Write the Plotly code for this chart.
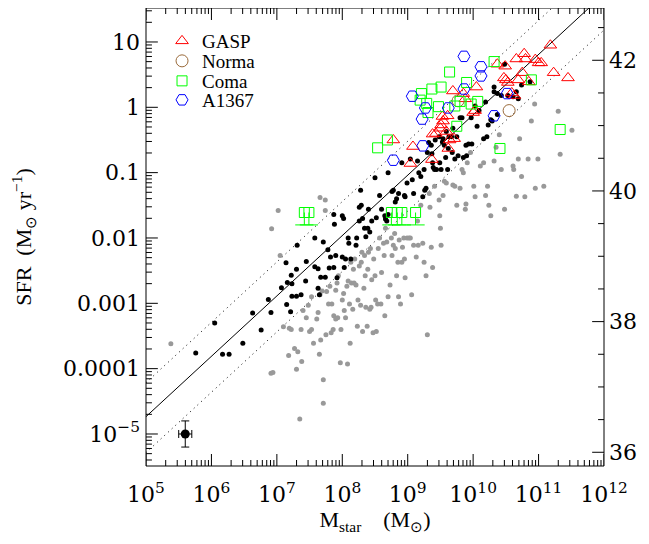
import numpy as np
import plotly.graph_objects as go

# log10 stellar mass / log10 SFR
black_logm = [5.76, 6.05, 6.17, 6.27, 6.48, 6.63, 6.76, 6.87, 6.91, 7.07, 7.14, 7.16, 7.22, 7.23,
              7.15, 7.21, 7.23, 7.30, 7.30, 7.37, 7.31, 7.45, 7.44, 7.58, 7.58, 7.63, 7.63, 7.67,
              7.65, 7.71, 7.74, 7.78, 7.80, 7.82, 7.87, 7.88, 7.87, 7.90, 7.92, 8.00, 8.02, 8.00,
              8.03, 8.05, 8.09, 8.10, 8.13, 8.21, 8.22, 8.26, 8.26, 8.28, 8.29, 8.31, 8.34, 8.36,
              8.39, 8.40, 8.42, 8.45, 8.50, 8.52, 8.57, 8.60, 8.65, 8.66, 8.68, 8.70, 8.70, 8.76,
              8.78, 8.81, 8.83, 8.86, 8.91, 8.95, 8.96, 8.99, 9.04, 9.07, 9.09, 9.15, 9.17, 9.20,
              9.23, 9.25, 9.26, 9.28, 9.30, 9.32, 9.36, 9.37, 9.38, 9.39, 9.41, 9.42, 9.44, 9.48,
              9.49, 9.51, 9.53, 9.54, 9.56, 9.58, 9.59, 9.61, 9.62, 9.63, 9.67, 9.68, 9.69, 9.72,
              9.75, 9.77, 9.80, 9.83, 9.85, 9.89, 9.90, 9.93, 9.98, 9.97, 10.03, 10.06, 10.09,
              10.16, 10.19, 10.21, 10.23, 10.27, 10.29, 10.32, 10.32, 10.37, 10.43, 10.48, 10.53,
              10.61, 10.74, 10.87, 10.66, 10.69, 10.37]
black_logsfr = [-3.76, -3.30, -3.78, -3.78, -3.61, -3.15, -3.41, -2.94, -3.14, -2.76, -2.38, -2.68,
                -2.57, -2.70, -3.02, -3.13, -2.89, -2.48, -2.89, -2.87, -2.11, -2.36, -2.66, -2.00,
                -2.44, -2.47, -2.77, -2.60, -2.87, -2.06, -2.60, -2.18, -2.46, -2.29, -1.64, -1.79,
                -2.45, -2.27, -2.61, -1.66, -1.70, -2.29, -2.45, -2.32, -2.00, -2.08, -2.32, -2.11,
                -2.00, -1.53, -1.74, -1.27, -1.50, -1.70, -1.85, -1.98, -1.85, -1.56, -1.91, -1.74,
                -1.08, -1.69, -1.35, -1.56, -1.66, -1.71, -1.74, -1.00, -1.64, -1.29, -1.27, -1.45,
                -1.40, -1.32, -0.85, -1.35, -1.37, -1.16, -0.79, -1.11, -1.32, -0.82, -1.00, -1.06,
                -1.37, -0.95, -1.27, -1.24, -0.69, -0.54, -0.58, -0.71, -0.85, -0.92, -0.95, -0.50,
                -0.95, -0.45, -0.85, -0.95, -0.53, -0.48, -0.58, -0.77, -0.37, -0.95, -0.63, -0.45,
                -0.45, -0.69, -0.32, -0.79, -0.45, -0.74, -0.16, -0.16, -0.77, -0.58, -0.74, -0.56,
                -0.56, -0.16, 0.02, -0.29, -0.05, -0.48, 0.08, -0.45, -0.27, -0.19, -0.21, 0.31,
                0.24, 0.21, 0.18, 0.66, 0.18, 0.16, 0.34, 0.39, 0.24, 0.13, -0.11]

gray_logm = [5.38, 6.92, 6.91, 6.94, 7.02, 7.05, 7.10, 7.19, 7.22, 7.18, 7.27, 7.32, 7.30, 7.35,
             7.37, 7.38, 7.40, 7.45, 7.48, 7.50, 7.53, 7.53, 7.56, 7.61, 7.63, 7.65, 7.66, 7.66,
             7.67, 7.69, 7.71, 7.71, 7.74, 7.74, 7.75, 7.76, 7.79, 7.81, 7.83, 7.84, 7.86, 7.87,
             7.90, 7.90, 7.92, 7.93, 7.94, 7.97, 7.98, 8.00, 8.02, 8.03, 8.05, 8.07, 8.08, 8.09,
             8.11, 8.12, 8.13, 8.14, 8.16, 8.17, 8.18, 8.19, 8.21, 8.23, 8.24, 8.26, 8.28, 8.29,
             8.30, 8.31, 8.33, 8.34, 8.35, 8.36, 8.38, 8.39, 8.40, 8.42, 8.43, 8.44, 8.45, 8.47,
             8.48, 8.50, 8.51, 8.52, 8.54, 8.55, 8.57, 8.59, 8.60, 8.63, 8.64, 8.65, 8.66, 8.68,
             8.70, 8.73, 8.75, 8.76, 8.78, 8.80, 8.81, 8.83, 8.85, 8.86, 8.87, 8.89, 8.91, 8.92,
             8.94, 8.95, 8.96, 8.99, 9.02, 9.04, 9.06, 9.09, 9.13, 9.15, 9.16, 9.20, 9.23, 9.25,
             9.28, 9.30, 9.33, 9.34, 9.36, 9.38, 9.41, 9.48, 9.49, 9.50, 9.51, 9.54, 9.56, 9.59,
             9.69, 9.72, 9.75, 9.80, 9.83, 9.85, 9.88, 9.89, 9.91, 9.96, 10.01, 10.03, 10.11,
             10.16, 10.19, 10.22, 10.24, 10.27, 10.32, 10.35, 10.40, 10.43, 10.48, 10.61, 10.62,
             10.66, 10.69, 10.71, 10.74, 10.79, 10.84, 10.89, 10.94, 10.95, 10.99, 11.08, 11.30,
             11.33, 11.51]
gray_logsfr = [-3.62, -1.86, -4.07, -4.06, -1.58, -2.27, -3.36, -3.38, -3.40, -3.80, -3.69, -3.74,
               -4.01, -4.77, -3.40, -3.89, -3.11, -3.22, -3.03, -3.43, -3.40, -2.90, -3.61, -3.24,
               -3.14, -3.78, -1.38, -2.87, -3.56, -2.81, -4.17, -4.53, -1.42, -1.58, -3.48, -2.82,
               -3.01, -2.74, -3.45, -3.01, -3.40, -3.19, -3.24, -2.80, -2.69, -3.22, -2.58, -3.91,
               -3.40, -2.95, -2.85, -3.11, -3.22, -2.74, -3.93, -2.66, -3.01, -3.61, -2.37, -2.69,
               -3.09, -2.48, -2.69, -2.32, -2.72, -3.35, -2.95, -2.43, -3.03, -2.37, -2.22, -3.43,
               -2.77, -2.27, -2.58, -3.06, -3.35, -2.48, -2.22, -3.09, -2.16, -3.06, -2.64, -3.45,
               -2.32, -2.58, -2.95, -3.43, -3.01, -2.16, -2.00, -3.01, -2.53, -2.08, -2.27, -3.19,
               -1.85, -2.06, -2.90, -2.72, -2.00, -2.27, -2.11, -1.93, -2.16, -2.58, -2.37, -2.90,
               -2.03, -3.01, -2.37, -2.14, -2.00, -2.32, -2.61, -2.00, -2.00, -2.00, -2.87, -2.11,
               -2.29, -1.74, -2.11, -1.50, -2.08, -2.37, -2.58, -3.48, -1.32, -1.53, -2.14, -2.45,
               -1.21, -1.42, -1.66, -1.85, -2.11, -1.35, -1.13, -1.16, -1.19, -1.21, -1.50, -1.24,
               -0.95, -1.00, -1.56, -1.48, -0.85, -0.69, -1.21, -1.37, -0.90, -0.85, -1.35, -1.21,
               -1.50, -1.66, -0.82, -0.61, -0.42, -0.95, -1.56, -0.90, -0.95, -1.36, -0.79, -0.48,
               -1.06, -1.37, -0.79, -0.21, 0.05, -1.24, -0.79, -1.21, -0.06, -0.72, -0.35]

gasp_logm = [8.78, 9.08, 9.04, 9.37, 9.38, 9.51, 9.50, 9.53, 9.61, 9.59, 9.62, 9.69, 9.71, 9.85,
             9.88, 10.00, 10.03, 10.05, 10.37, 10.49, 10.47, 10.50, 10.53, 10.59, 10.63, 10.66,
             10.69, 10.75, 10.78, 10.80, 10.85, 10.95, 11.00, 11.04, 11.18, 11.23, 11.45, 9.54,
             9.64, 9.43]
gasp_logsfr = [-0.50, -0.60, -0.86, -0.80, -0.41, -0.27, -0.32, -0.14, -0.13, -0.37, -0.63, 0.25,
               -0.48, 0.21, 0.13, -0.08, -0.05, 0.31, 0.66, 0.63, 0.45, 0.42, 0.38, 0.22, 0.18,
               0.74, 0.42, 0.53, 0.82, 0.74, 0.39, 0.73, 0.68, 0.68, 0.95, 0.53, 0.45, -0.21,
               -0.50, -0.40]

norma_logm = [10.55, 9.77]
norma_logsfr = [-0.05, 0.10]

coma_logm = [8.54, 8.69, 9.21, 9.19, 9.29, 9.31, 9.37, 9.51, 9.47, 9.64, 9.72, 9.75, 9.80, 9.90,
             9.97, 10.07, 10.32, 10.41, 10.89, 11.33]
coma_logsfr = [-0.62, -0.50, 0.21, 0.11, 0.06, -0.08, 0.28, 0.31, 0.01, 0.54, 0.02, -0.29, 0.09,
               0.38, 0.05, 0.09, 0.70, -0.63, 0.42, -0.34]

# Coma galaxies with downward bars
coma_lim_logm = [7.42, 7.49, 8.75, 8.84, 8.91, 9.12]
coma_lim_logsfr = [-1.61, -1.61, -1.61, -1.61, -1.61, -1.61]
coma_lim_bar = 0.19

a1367_logm = [8.78, 9.23, 9.22, 9.27, 9.07, 9.62, 9.86, 9.86, 10.12, 10.12, 10.32, 10.52]
a1367_logsfr = [-0.81, -0.59, -0.18, -0.01, 0.17, -0.01, 0.78, 0.28, 0.62, 0.48, -0.13, 0.21]

# typical error point
err_logm, err_logsfr = 5.60, -5.0
err_dm, err_dsfr = 0.1, 0.2

# main sequence relation and its scatter
ms_slope, ms_zero, ms_pivot = 0.924, -4.735, 5.0
ms_up, ms_low = 0.52, 0.55
lha_offset = 41.28

xrange_log = [5, 12]
yrange_log = [-5.49, 1.52]

font = "Liberation Serif"
numfont = "DejaVu Serif"

W, H = 649, 544
ML, MR, MT, MB = 132, 53, 0, 86
PW, PH = W - ML - MR, H - MT - MB


def p(a):
    return 10 ** np.array(a, dtype=float)


fig = go.Figure()

line_m = np.array(xrange_log, dtype=float)
ms = ms_zero + ms_slope * (line_m - ms_pivot)
for off, dash in [(0, "solid"), (ms_up, "1px,4px"), (-ms_low, "1px,4px")]:
    fig.add_trace(go.Scatter(x=10 ** line_m, y=10 ** (ms + off), mode="lines",
                             line=dict(color="black", width=1, dash=dash),
                             showlegend=False, hoverinfo="skip"))

fig.add_trace(go.Scatter(x=p(gray_logm), y=p(gray_logsfr), mode="markers",
                         marker=dict(size=5, color="#999999"), showlegend=False))
fig.add_trace(go.Scatter(x=p(black_logm), y=p(black_logsfr), mode="markers",
                         marker=dict(size=5, color="black"), showlegend=False))

# error bar example
ey = 10 ** err_logsfr
ex = 10 ** err_logm
fig.add_trace(go.Scatter(
    x=[ex], y=[ey], mode="markers", marker=dict(size=9, color="black"), showlegend=False,
    error_y=dict(type="data", symmetric=False, array=[ey * (10 ** err_dsfr - 1)],
                 arrayminus=[ey * (1 - 10 ** -err_dsfr)], color="black", thickness=1, width=4),
    error_x=dict(type="data", symmetric=False, array=[ex * (10 ** err_dm - 1)],
                 arrayminus=[ex * (1 - 10 ** -err_dm)], color="black", thickness=1, width=4)))

green = "#00ff00"
lim_y = p(coma_lim_logsfr)
fig.add_trace(go.Scatter(
    x=p(coma_lim_logm), y=lim_y, mode="markers", showlegend=False,
    marker=dict(symbol="square-open", size=10, color=green, line=dict(width=1)),
    error_y=dict(type="data", symmetric=False, array=[0] * len(lim_y),
                 arrayminus=list(lim_y * (1 - 10 ** -coma_lim_bar)), color=green,
                 thickness=1, width=0)))
fig.add_trace(go.Scatter(
    x=p(coma_lim_logm), y=lim_y * 10 ** -coma_lim_bar, mode="markers", showlegend=False,
    marker=dict(symbol="line-ew-open", size=13, color=green, line=dict(width=1, color=green))))

# one legend per sample so the rows sit as close as in the original
samples = [
    ("GASP", gasp_logm, gasp_logsfr, "triangle-up-open", 11, "#ff0000"),
    ("Norma", norma_logm, norma_logsfr, "circle-open", 12, "#9a6a3a"),
    ("Coma", coma_logm, coma_logsfr, "square-open", 10, green),
    ("A1367", a1367_logm, a1367_logsfr, "hexagon2-open", 12, "#0000ff"),
]
legend_rows = [33, 53, 73, 92]  # px below the top of the frame
legends = {}
for i, (name, lm, ls, sym, size, col) in enumerate(samples):
    key = "legend" if i == 0 else f"legend{i + 1}"
    fig.add_trace(go.Scatter(x=p(lm), y=p(ls), mode="markers", name=name, legend=key,
                             marker=dict(symbol=sym, size=size, color=col, line=dict(width=1))))
    legends[key] = dict(x=0.035, y=1 - legend_rows[i] / PH, xanchor="left", yanchor="middle",
                        bgcolor="rgba(0,0,0,0)", font=dict(family=font, size=19))

# empty trace so the H-alpha luminosity axis gets drawn
fig.add_trace(go.Scatter(x=[None], y=[None], yaxis="y2", showlegend=False, hoverinfo="skip"))

x_major = list(range(5, 13))
x_text = [f"10<sup>{n}</sup>" for n in x_major]
x_minor = [n + np.log10(k) for n in range(5, 12) for k in range(2, 10)]
y_major = list(range(-5, 2))
y_text = ["10<sup>\u22125</sup>", "0.0001", "0.001", "0.01", "0.1", "1", "10"]
y_minor = [n + np.log10(k) for n in range(-6, 2) for k in range(2, 10)
           if yrange_log[0] < n + np.log10(k) < yrange_log[1]]
l_major = [36, 38, 40, 42]
l_minor = [v / 2 for v in range(72, 86) if v % 4]

# tick marks drawn inside the frame (shape coords on log axes are data values)
tick = dict(color="black", width=1)
shapes = [dict(type="rect", xref="paper", yref="paper", x0=0, x1=1, y0=0, y1=1,
               line=tick, layer="above")]
for vals, ln in [(x_major, 12), (x_minor, 6)]:
    for v in vals:
        for y0, y1 in [(0, ln / PH), (1 - ln / PH, 1)]:
            shapes.append(dict(type="line", xref="x", yref="paper", x0=10 ** v, x1=10 ** v,
                               y0=y0, y1=y1, line=tick, layer="above"))
for vals, ln in [(y_major, 12), (y_minor, 6)]:
    for v in vals:
        shapes.append(dict(type="line", xref="paper", yref="y", x0=0, x1=ln / PW,
                           y0=10 ** v, y1=10 ** v, line=tick, layer="above"))
for vals, ln in [(l_major, 12), (l_minor, 6)]:
    for v in vals:
        yv = 10 ** (v - lha_offset)
        shapes.append(dict(type="line", xref="paper", yref="y", x0=1 - ln / PW, x1=1,
                           y0=yv, y1=yv, line=tick, layer="above"))

tickfont = dict(family=numfont, size=22, color="black")
common = dict(showgrid=False, zeroline=False, ticks="", showline=False)

fig.update_layout(
    width=W, height=H,
    margin=dict(l=ML, r=MR, t=MT, b=MB),
    plot_bgcolor="white", paper_bgcolor="white",
    font=dict(family=font, color="black"),
    showlegend=True,
    shapes=shapes,
    xaxis=dict(common, type="log", range=xrange_log, tickmode="array",
               tickvals=[10.0 ** n for n in x_major], ticktext=x_text, tickfont=tickfont,
               ticklabelstandoff=13,
               title=dict(text="M<sub>star</sub>    (M<sub>\u2299</sub>)", standoff=3,
                          font=dict(family=font, size=22))),
    yaxis=dict(common, type="log", range=yrange_log, tickmode="array",
               tickvals=[10.0 ** n for n in y_major], ticktext=y_text, tickfont=tickfont,
               ticklabelstandoff=5,
               title=dict(text="SFR  (M<sub>\u2299</sub> yr<sup>\u22121</sup>)", standoff=40,
                          font=dict(family=font, size=22))),
    yaxis2=dict(common, overlaying="y", side="right", anchor="x",
                range=[yrange_log[0] + lha_offset, yrange_log[1] + lha_offset],
                tickmode="array", tickvals=l_major, tickfont=tickfont, ticklabelstandoff=4),
    **legends,
)

fig.write_html("out.html")
